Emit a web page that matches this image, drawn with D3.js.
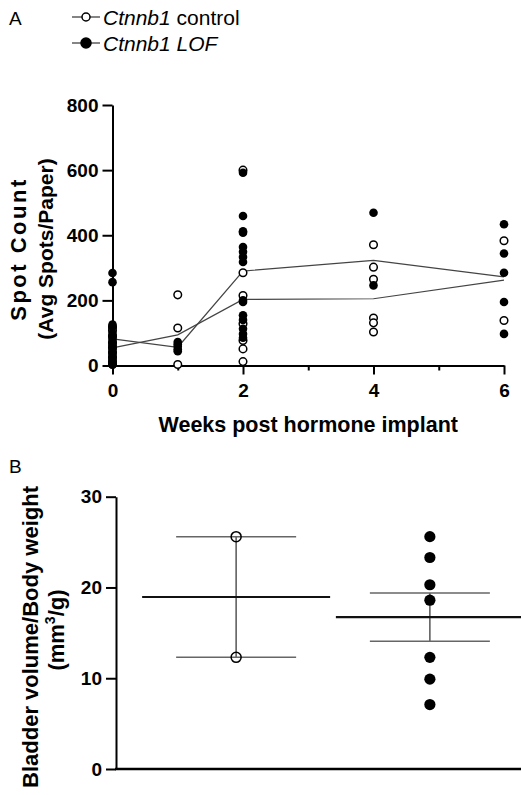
<!DOCTYPE html>
<html>
<head>
<meta charset="utf-8">
<script src="https://cdn.jsdelivr.net/npm/d3@7"></script>
<style>
  body { margin: 0; background: #fff; }
  svg { display: block; font-family: "Liberation Sans", Arial, sans-serif; }
  .axis path, .axis line { stroke: #000; stroke-width: 2; }
  .axis text { font-size: 19px; font-weight: bold; fill: #000; font-family: "Liberation Sans", Arial, sans-serif; }
  .title { font-weight: bold; fill: #000; }
</style>
</head>
<body>
<div class="chart-container"></div>
<script>
// panel A: spot counts per week
const weeks = [0, 1, 2, 4, 6];
const controlSpots = [
  [118, 108, 90, 70, 55, 40, 25, 12, 3],
  [217, 115, 3],
  [600, 285, 215, 128, 77, 51, 12],
  [371, 302, 265, 146, 131, 103],
  [383, 138]
];
const lofSpots = [
  [284, 256, 126, 118, 100, 92, 85, 78, 70, 62, 55, 48, 40, 32, 25, 18, 10, 3],
  [72, 65, 58, 50, 44],
  [592, 459, 412, 408, 364, 349, 333, 318, 200, 195, 154, 140, 113, 97, 85],
  [469, 246],
  [434, 344, 285, 195, 97]
];
const controlTrend = [54, 94, 203, 205, 262];
const lofTrend = [82, 56, 290, 323, 272];
const spotTicks = [0, 200, 400, 600, 800];
const weekTicks = [0, 2, 4, 6];
const weekMinorTicks = [1, 3, 5];

// panel B: bladder volume / body weight
const groupsB = ['control', 'LOF'];
const bladderControl = [25.6, 12.3];
const bladderLOF = [25.6, 23.3, 20.3, 18.6, 12.3, 9.9, 7.1];
const bladderTicks = [0, 10, 20, 30];

const width = 521;
const height = 795;

function flatten(series) {
  return series.flatMap((vals, i) => vals.map(v => ({ week: weeks[i], value: v })));
};

function drawLegend(svg) {
  const entries = [
    { italic: 'Ctnnb1', rest: ' control', open: true, y: 17 },
    { italic: 'Ctnnb1 LOF', rest: '', open: false, y: 43 }
  ];
  const g = svg.append('g').selectAll('g').data(entries).join('g')
    .attr('transform', d => `translate(0,${d.y})`);
  g.append('line')
    .attr('x1', 72).attr('x2', 100)
    .attr('stroke', '#333').attr('stroke-width', 1.2);
  g.append('circle')
    .attr('cx', 86)
    .attr('r', d => d.open ? 4 : 5)
    .attr('fill', d => d.open ? '#fff' : '#000')
    .attr('stroke', '#000').attr('stroke-width', 1.5);
  const t = g.append('text')
    .attr('x', 103).attr('y', 8)
    .style('font-size', '21px');
  t.append('tspan').style('font-style', 'italic').text(d => d.italic);
  t.append('tspan').text(d => d.rest);
};

function drawPanelA(svg) {
  const x = d3.scaleLinear().domain([0, 6]).range([112.5, 504]);
  const y = d3.scaleLinear().domain([0, 800]).range([365.5, 105]);

  svg.append('text').attr('x', 9).attr('y', 25)
    .style('font-size', '19px').text('A');
  drawLegend(svg);

  svg.append('g')
    .attr('class', 'axis')
    .attr('transform', `translate(${x(0)},0)`)
    .call(d3.axisLeft(y).tickValues(spotTicks).tickSize(10).tickPadding(4).tickSizeOuter(0));

  svg.append('g')
    .attr('class', 'axis')
    .attr('transform', `translate(0,${y(0)})`)
    .call(d3.axisBottom(x).tickValues(weekTicks).tickFormat(d3.format('d')).tickSize(9).tickPadding(9).tickSizeOuter(0));

  svg.append('g')
    .attr('class', 'axis')
    .attr('transform', `translate(0,${y(0)})`)
    .call(d3.axisBottom(x).tickValues(weekMinorTicks).tickFormat('').tickSize(5))
    .call(g => g.select('.domain').remove());

  const line = d3.line()
    .x((d, i) => x(weeks[i]))
    .y(d => y(d));

  svg.append('g')
    .selectAll('path')
    .data([controlTrend, lofTrend])
    .join('path')
    .attr('d', line)
    .attr('fill', 'none')
    .attr('stroke', '#444')
    .attr('stroke-width', 1.2);

  svg.append('g')
    .selectAll('circle')
    .data(flatten(controlSpots))
    .join('circle')
    .attr('cx', d => x(d.week))
    .attr('cy', d => y(d.value))
    .attr('r', 3.8)
    .attr('fill', '#fff')
    .attr('stroke', '#000')
    .attr('stroke-width', 1.5);

  svg.append('g')
    .selectAll('circle')
    .data(flatten(lofSpots))
    .join('circle')
    .attr('cx', d => x(d.week))
    .attr('cy', d => y(d.value))
    .attr('r', 4.3)
    .attr('fill', '#000');

  svg.append('text')
    .attr('class', 'title')
    .attr('x', (x(0) + x(6)) / 2).attr('y', 432)
    .attr('text-anchor', 'middle')
    .style('font-size', '21.5px')
    .text('Weeks post hormone implant');

  const yt = svg.append('g').attr('transform', 'translate(0,249) rotate(-90)');
  yt.append('text')
    .attr('class', 'title').attr('y', 26).attr('text-anchor', 'middle')
    .style('font-size', '22px').style('letter-spacing', '2.5px')
    .text('Spot Count');
  yt.append('text')
    .attr('class', 'title').attr('y', 53).attr('text-anchor', 'middle')
    .style('font-size', '21px')
    .text('(Avg Spots/Paper)');
};

function drawPanelB(svg) {
  const x = d3.scalePoint().domain(groupsB).range([116, 550]).padding(0.62);
  const y = d3.scaleLinear().domain([0, 30]).range([769, 496.7]);
  const groups = [
    { key: 'control', values: bladderControl, open: true },
    { key: 'LOF', values: bladderLOF, open: false }
  ];
  groups.forEach(g => {
    g.mean = d3.mean(g.values);
    g.sem = d3.deviation(g.values) / Math.sqrt(g.values.length);
  });

  svg.append('text').attr('x', 9).attr('y', 473)
    .style('font-size', '19px').text('B');

  svg.append('g')
    .attr('class', 'axis')
    .attr('transform', `translate(${x.range()[0]},0)`)
    .call(d3.axisLeft(y).tickValues(bladderTicks).tickSize(10).tickPadding(4).tickSizeOuter(0));

  svg.append('line')
    .attr('x1', x.range()[0] - 1).attr('x2', width)
    .attr('y1', y(0)).attr('y2', y(0))
    .attr('stroke', '#000').attr('stroke-width', 2.5);

  const grp = svg.append('g').selectAll('g').data(groups).join('g');

  // sem whiskers
  grp.append('line')
    .attr('x1', d => x(d.key)).attr('x2', d => x(d.key))
    .attr('y1', d => y(d.mean + d.sem)).attr('y2', d => y(d.mean - d.sem))
    .attr('stroke', '#555').attr('stroke-width', 1.5);
  grp.selectAll('.cap')
    .data(d => [d.mean + d.sem, d.mean - d.sem].map(v => ({ key: d.key, v })))
    .join('line')
    .attr('class', 'cap')
    .attr('x1', d => x(d.key) - 60).attr('x2', d => x(d.key) + 60)
    .attr('y1', d => y(d.v)).attr('y2', d => y(d.v))
    .attr('stroke', '#666').attr('stroke-width', 1.5);

  // mean
  grp.append('line')
    .attr('x1', d => x(d.key) - 94).attr('x2', d => x(d.key) + 94)
    .attr('y1', d => y(d.mean)).attr('y2', d => y(d.mean))
    .attr('stroke', '#111').attr('stroke-width', 2.2);

  grp.selectAll('circle')
    .data(d => d.values.map(v => ({ key: d.key, v, open: d.open })))
    .join('circle')
    .attr('cx', d => x(d.key))
    .attr('cy', d => y(d.v))
    .attr('r', d => d.open ? 5 : 5.6)
    .attr('fill', d => d.open ? 'none' : '#000')
    .attr('stroke', d => d.open ? '#000' : 'none')
    .attr('stroke-width', 1.5);

  const yt = svg.append('g').attr('transform', 'translate(0,637) rotate(-90)');
  yt.append('text')
    .attr('class', 'title').attr('y', 38).attr('text-anchor', 'middle')
    .style('font-size', '22px')
    .text('Bladder volume/Body weight');
  const unit = svg.append('g').attr('transform', 'translate(0,630) rotate(-90)')
    .append('text')
    .attr('class', 'title').attr('y', 64).attr('text-anchor', 'middle')
    .style('font-size', '22px');
  unit.append('tspan').text('(mm');
  unit.append('tspan').attr('dy', -9).style('font-size', '14px').text('3');
  unit.append('tspan').attr('dy', 9).text('/g)');
};

const svg = d3.select('.chart-container')
  .append('svg')
  .attr('width', width)
  .attr('height', height);

drawPanelA(svg);
drawPanelB(svg);
</script>
</body>
</html>
